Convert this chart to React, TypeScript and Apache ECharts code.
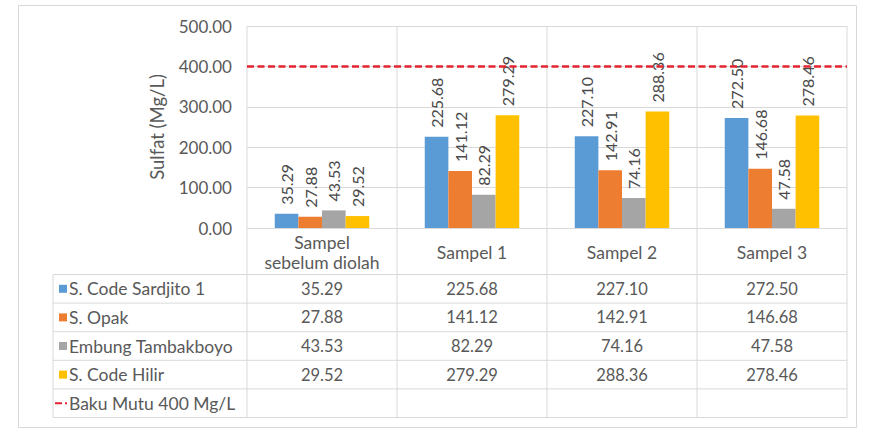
import React, { useEffect, useRef } from "react";
import * as echarts from "echarts";

// Sample groups (x axis) and sulfate readings per monitoring point, in Mg/L
const categories = ["Sampel\nsebelum diolah", "Sampel 1", "Sampel 2", "Sampel 3"];
const seriesNames = ["S. Code Sardjito 1", "S. Opak", "Embung Tambakboyo", "S. Code Hilir"];
const sardjito = [35.29, 225.68, 227.1, 272.5];
const opak = [27.88, 141.12, 142.91, 146.68];
const embung = [43.53, 82.29, 74.16, 47.58];
const hilir = [29.52, 279.29, 288.36, 278.46];
const seriesValues = [sardjito, opak, embung, hilir];
const seriesColors = ["#5b9bd5", "#ed7d31", "#a5a5a5", "#ffc000"];

// Quality standard threshold
const bakuMutu = 400;
const bakuMutuName = "Baku Mutu 400 Mg/L";

// Value axis
const yMin = 0;
const yMax = 500;
const yStep = 100;
const yTitle = "Sulfat (Mg/L)";

const FONT = 'Lato, "Noto Sans", sans-serif';
const TEXT = "#595959";
const GRID = "#d9d9d9";
const RED = "#e3242f";

export default function App() {
  const ref = useRef<HTMLDivElement>(null);

  useEffect(() => {
    if (!ref.current) return;
    const chart = echarts.init(ref.current, null, { renderer: "svg" });

    const bars = seriesNames.map((name, i) => ({
      name,
      type: "bar",
      data: seriesValues[i],
      barGap: "0%",
      barCategoryGap: "37%",
      itemStyle: { color: seriesColors[i] },
      label: {
        show: true,
        position: "top",
        rotate: 90,
        align: "left",
        verticalAlign: "middle",
        distance: 9,
        color: "#4a4a4a",
        fontFamily: FONT,
        fontSize: 16,
        formatter: (p: any) => Number(p.value).toFixed(2),
      },
      ...(i === 0
        ? {
            markLine: {
              silent: true,
              symbol: "none",
              z: 10,
              label: { show: false },
              lineStyle: { color: RED, type: [7, 3.5], width: 2.5 },
              data: [{ yAxis: bakuMutu, name: bakuMutuName }],
            },
          }
        : {}),
    }));

    chart.setOption({
      animation: false,
      backgroundColor: "#ffffff",
      grid: { left: 247, right: 22, top: 26, bottom: 201 },
      xAxis: {
        type: "category",
        data: categories,
        axisLine: { show: false },
        axisTick: { show: false },
        splitLine: { show: false },
        axisLabel: {
          color: TEXT,
          fontFamily: FONT,
          fontSize: 17.5,
          lineHeight: 20,
          verticalAlign: "middle",
          margin: 24,
          interval: 0,
        },
      },
      yAxis: {
        type: "value",
        min: yMin,
        max: yMax,
        interval: yStep,
        name: yTitle,
        nameLocation: "middle",
        nameGap: 81,
        nameRotate: 90,
        nameTextStyle: { color: TEXT, fontFamily: FONT, fontSize: 18.5 },
        axisLine: { show: false },
        axisTick: { show: false },
        splitLine: { lineStyle: { color: GRID, width: 1 } },
        axisLabel: {
          color: TEXT,
          fontFamily: FONT,
          fontSize: 17,
          margin: 15,
          formatter: (v: number) => v.toFixed(2),
        },
      },
      series: bars,
    });

    // Data table under the plot, aligned to the category bands
    const cx = categories.map((_, i) => chart.convertToPixel({ xAxisIndex: 0 }, i) as number);
    const band = cx.length > 1 ? cx[1] - cx[0] : 150;
    const bounds = [cx[0] - band / 2, ...cx.map((c) => c + band / 2)];
    const yZero = chart.convertToPixel({ yAxisIndex: 0 }, yMin) as number;
    const yTop = chart.convertToPixel({ yAxisIndex: 0 }, yMax) as number;

    const headerH = 46.5;
    const rowH = 28.6;
    const tableLeft = 53;
    const rowsTop = yZero + headerH;
    const nRows = seriesNames.length + 1;
    const tableBottom = rowsTop + nRows * rowH;
    const right = bounds[bounds.length - 1];

    const lineStyle = { stroke: GRID, lineWidth: 1 };
    const g: any[] = [];

    // outer frame
    g.push({
      type: "rect",
      shape: { x: 18.5, y: 5.5, width: 838, height: 422 },
      style: { fill: "none", stroke: GRID, lineWidth: 1 },
      silent: true,
    });

    // column dividers from plot top through table
    bounds.forEach((bx) => {
      g.push({
        type: "line",
        shape: { x1: bx, y1: yTop, x2: bx, y2: tableBottom },
        style: lineStyle,
        silent: true,
        z: -1,
      });
    });
    // legend column left edge
    g.push({
      type: "line",
      shape: { x1: tableLeft, y1: rowsTop, x2: tableLeft, y2: tableBottom },
      style: lineStyle,
      silent: true,
    });
    // row lines
    for (let r = 0; r <= nRows; r++) {
      const y = rowsTop + r * rowH;
      g.push({
        type: "line",
        shape: { x1: tableLeft, y1: y, x2: right, y2: y },
        style: lineStyle,
        silent: true,
      });
    }

    // series rows: legend key, name, values
    seriesNames.forEach((name, i) => {
      const ym = rowsTop + i * rowH + rowH / 2;
      g.push({
        type: "rect",
        shape: { x: 59, y: ym - 4, width: 8, height: 8 },
        style: { fill: seriesColors[i] },
        silent: true,
      });
      g.push({
        type: "text",
        x: 69,
        y: ym,
        style: {
          text: name,
          fill: TEXT,
          font: `17.5px ${FONT}`,
          verticalAlign: "middle",
          align: "left",
        },
        silent: true,
      });
      seriesValues[i].forEach((v, j) => {
        g.push({
          type: "text",
          x: cx[j],
          y: ym,
          style: {
            text: v.toFixed(2),
            fill: TEXT,
            font: `16.5px ${FONT}`,
            verticalAlign: "middle",
            align: "center",
          },
          silent: true,
        });
      });
    });

    // threshold row
    const yb = rowsTop + seriesNames.length * rowH + rowH / 2;
    g.push({
      type: "line",
      shape: { x1: 55, y1: yb, x2: 67, y2: yb },
      style: { stroke: RED, lineWidth: 2, lineDash: [7, 3] },
      silent: true,
    });
    g.push({
      type: "text",
      x: 69,
      y: yb,
      style: {
        text: bakuMutuName,
        fill: TEXT,
        font: `17.5px ${FONT}`,
        verticalAlign: "middle",
        align: "left",
      },
      silent: true,
    });

    chart.setOption({ graphic: g });

    return () => chart.dispose();
  }, []);

  return (
    <div
      ref={ref}
      style={{ position: "absolute", left: 0, top: 0, width: 869, height: 429, background: "#fff" }}
    />
  );
}
